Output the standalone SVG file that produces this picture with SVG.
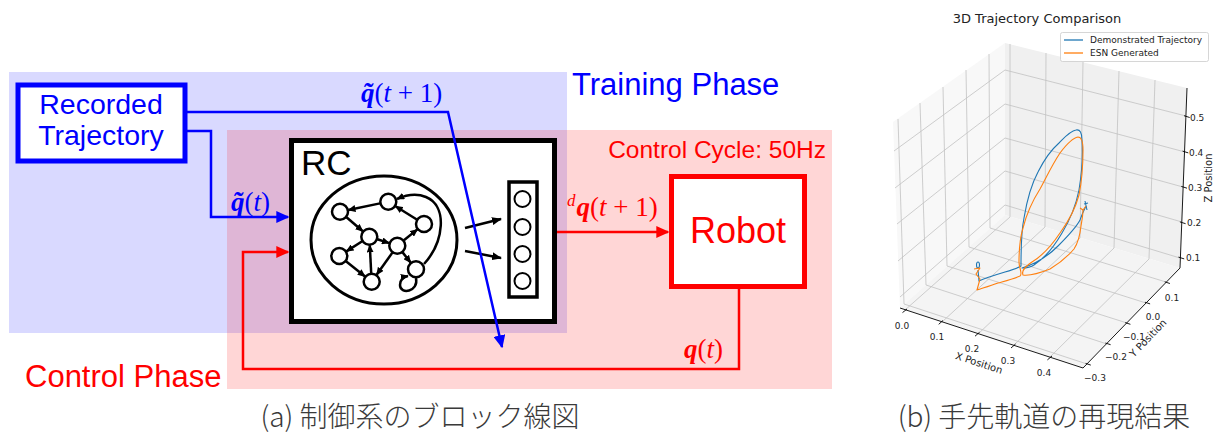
<svg xmlns="http://www.w3.org/2000/svg" width="1215" height="434" viewBox="0 0 1215 434">
<style>
  .sans{font-family:"Liberation Sans",Arial,sans-serif}
  .math{font-family:"Liberation Serif","Times New Roman",serif;font-size:27px}
  .bq{font-weight:bold;font-style:italic}
  .it{font-style:italic}
  .cap{font-family:"Noto Sans CJK JP","Noto Sans",sans-serif;font-size:28px;font-weight:300;fill:#3a3a3a}
  .nd{fill:#fff;stroke:#000;stroke-width:2.5}
  .ed{fill:none;stroke:#000;stroke-width:2.5;marker-end:url(#ah)}
  .bl{fill:none;stroke:#0000ff;stroke-width:2.5}
  .rd{fill:none;stroke:#ff0000;stroke-width:2.5}
  .grid{stroke:#c2c2c2;stroke-width:0.8;fill:none}
  .ax{stroke:#000;stroke-width:0.9;fill:none}
  .mpl{font-family:"DejaVu Sans",sans-serif;fill:#222}
  .tk{font-size:9px}
  .tr{fill:none;stroke-width:1.1;stroke-linejoin:round}
</style>
<defs>
  <marker id="ah" viewBox="0 0 10 10" refX="9" refY="5" markerWidth="8" markerHeight="7" markerUnits="userSpaceOnUse" orient="auto" preserveAspectRatio="none"><path d="M0,0L10,5L0,10z" fill="#000"/></marker>
  <marker id="ahk" viewBox="0 0 10 10" refX="9" refY="5" markerWidth="10" markerHeight="8" markerUnits="userSpaceOnUse" orient="auto" preserveAspectRatio="none"><path d="M0,0L10,5L0,10z" fill="#000"/></marker>
  <marker id="ahb" viewBox="0 0 10 10" refX="9" refY="5" markerWidth="13" markerHeight="12" markerUnits="userSpaceOnUse" orient="auto" preserveAspectRatio="none"><path d="M0,0L10,5L0,10z" fill="#0000ff"/></marker>
  <marker id="ahr" viewBox="0 0 10 10" refX="9" refY="5" markerWidth="13" markerHeight="12" markerUnits="userSpaceOnUse" orient="auto" preserveAspectRatio="none"><path d="M0,0L10,5L0,10z" fill="#ff0000"/></marker>
</defs>

<rect width="1215" height="434" fill="#fff"/>

<!-- phase regions -->
<g id="training-phase">
  <rect x="9" y="72" width="558" height="261" fill="#0000ff" fill-opacity="0.15"/>
  <text class="sans" x="572" y="95" font-size="31" fill="#0000ff">Training Phase</text>
</g>
<g id="control-phase">
  <rect x="227" y="130" width="605" height="259" fill="#ff0000" fill-opacity="0.16"/>
  <text class="sans" x="25" y="387" font-size="31" fill="#ff0000">Control Phase</text>
  <text class="sans" x="826" y="158" font-size="24.5" fill="#ff0000" text-anchor="end">Control Cycle: 50Hz</text>
</g>

<!-- recorded trajectory source -->
<g id="recorded">
  <rect x="18" y="85" width="167" height="76" fill="#fff" stroke="#0000ff" stroke-width="5"/>
  <text class="sans" x="101" y="114" font-size="28.5" fill="#0000ff" text-anchor="middle">Recorded</text>
  <text class="sans" x="101" y="145" font-size="28.5" fill="#0000ff" text-anchor="middle">Trajectory</text>
</g>

<!-- reservoir computer -->
<g id="rc">
  <rect x="291.5" y="140.5" width="263" height="181" fill="#fff" stroke="#000" stroke-width="5"/>
  <text class="sans" x="301" y="175" font-size="35" fill="#000">RC</text>
  <ellipse cx="384" cy="240" rx="73" ry="64" fill="none" stroke="#000" stroke-width="3"/>
  <!-- internal edges -->
  <line class="ed" x1="380" y1="203.4" x2="348.3" y2="210"/>
  <line class="ed" x1="346.5" y1="217.2" x2="362.8" y2="231.2"/>
  <line class="ed" x1="377.4" y1="239.3" x2="389.2" y2="243.1"/>
  <line class="ed" x1="403.9" y1="240.3" x2="417.4" y2="229.4"/>
  <line class="ed" x1="416.8" y1="219.5" x2="395.5" y2="206.2"/>
  <line class="ed" x1="362.2" y1="241.3" x2="346.4" y2="251.4"/>
  <line class="ed" x1="346" y1="261.3" x2="365" y2="276.4"/>
  <line class="ed" x1="371.2" y1="273.2" x2="369.8" y2="245.2"/>
  <line class="ed" x1="392.4" y1="252.6" x2="376.6" y2="274.8"/>
  <line class="ed" x1="402.6" y1="252.4" x2="410.7" y2="262.6"/>
  <path class="ed" d="M424,264 C444,242 448,206 426,197 C416,193 406,195 397,199"/>
  <path class="ed" d="M416,278 C419,292 400,295 400,285 C400,280 403,277 408,276"/>
  <!-- internal nodes -->
  <circle class="nd" cx="340" cy="211.7" r="8"/>
  <circle class="nd" cx="388.3" cy="201.7" r="8"/>
  <circle class="nd" cx="424" cy="224" r="8"/>
  <circle class="nd" cx="369.3" cy="236.7" r="8"/>
  <circle class="nd" cx="397.3" cy="245.7" r="8"/>
  <circle class="nd" cx="339.3" cy="256" r="8"/>
  <circle class="nd" cx="371.7" cy="281.7" r="8"/>
  <circle class="nd" cx="416" cy="269.3" r="8"/>
  <!-- readout -->
  <line x1="465" y1="228" x2="501" y2="219" stroke="#000" stroke-width="2.5" marker-end="url(#ahk)"/>
  <line x1="465" y1="251" x2="501" y2="258" stroke="#000" stroke-width="2.5" marker-end="url(#ahk)"/>
  <rect x="509" y="182" width="28" height="115" fill="#fff" stroke="#000" stroke-width="3.5"/>
  <circle cx="522.5" cy="199" r="8" fill="#fff" stroke="#000" stroke-width="2"/>
  <circle cx="522.5" cy="227" r="8" fill="#fff" stroke="#000" stroke-width="2"/>
  <circle cx="522.5" cy="254" r="8" fill="#fff" stroke="#000" stroke-width="2"/>
  <circle cx="522.5" cy="281" r="8" fill="#fff" stroke="#000" stroke-width="2"/>
</g>

<!-- robot -->
<g id="robot">
  <rect x="671.5" y="176.5" width="133" height="110" fill="#fff" stroke="#ff0000" stroke-width="5"/>
  <text class="sans" x="738" y="243" font-size="36" fill="#ff0000" text-anchor="middle">Robot</text>
</g>

<!-- connectors -->
<g id="connectors">
  <polyline class="bl" points="187,112 448,112 502,347" marker-end="url(#ahb)"/>
  <polyline class="bl" points="187,131 211,131 211,217 288,217" marker-end="url(#ahb)"/>
  <line class="rd" x1="557" y1="232" x2="668" y2="232" marker-end="url(#ahr)"/>
  <polyline class="rd" points="739,289 739,369 243,369 243,252 288,252" marker-end="url(#ahr)"/>
  <text class="math" x="361" y="102" fill="#0000ff"><tspan class="bq">q̃</tspan>(<tspan class="it">t</tspan> + 1)</text>
  <text class="math" x="231" y="211" fill="#0000ff"><tspan class="bq">q̃</tspan>(<tspan class="it">t</tspan>)</text>
  <text class="math" x="567" y="216" fill="#ff0000"><tspan class="it" font-size="17" dy="-10">d</tspan><tspan class="bq" dy="10" dx="1">q</tspan>(<tspan class="it">t</tspan> + 1)</text>
  <text class="math" x="684" y="358" fill="#ff0000"><tspan class="bq">q</tspan>(<tspan class="it">t</tspan>)</text>
</g>

<text class="cap" x="420" y="427" text-anchor="middle">(a) 制御系のブロック線図</text>

<!-- 3D trajectory plot -->
<g id="plot3d">
  <path d="M893,122 L1005,43 L1005,215 L900,308 Z" fill="#f8f8f8"/>
  <path d="M1005,43 L1187,88 L1180,268 L1005,215 Z" fill="#f0f0f0"/>
  <path d="M900,308 L1083,368 L1180,268 L1005,215 Z" fill="#f4f4f4"/>
  <g class="grid">
    <!-- back wall (y = max) -->
    <line x1="1010" y1="217" x2="1010" y2="44"/>
    <line x1="1045" y1="227" x2="1046" y2="53"/>
    <line x1="1080" y1="238" x2="1083" y2="62"/>
    <line x1="1114" y1="248" x2="1119" y2="71"/>
    <line x1="1149" y1="259" x2="1155" y2="80"/>
    <line x1="1005" y1="205" x2="1180" y2="258"/>
    <line x1="1005" y1="171" x2="1182" y2="222"/>
    <line x1="1005" y1="138" x2="1183" y2="187"/>
    <line x1="1005" y1="104" x2="1185" y2="152"/>
    <line x1="1005" y1="70" x2="1186" y2="116"/>
    <!-- side wall (x = min) -->
    <line x1="904" y1="304" x2="898" y2="119"/>
    <line x1="926" y1="285" x2="920" y2="103"/>
    <line x1="947" y1="266" x2="943" y2="87"/>
    <line x1="969" y1="247" x2="966" y2="70"/>
    <line x1="990" y1="228" x2="989" y2="54"/>
    <line x1="900" y1="297" x2="1005" y2="205"/>
    <line x1="898" y1="261" x2="1005" y2="171"/>
    <line x1="897" y1="224" x2="1005" y2="138"/>
    <line x1="895" y1="188" x2="1005" y2="104"/>
    <line x1="894" y1="151" x2="1005" y2="70"/>
    <!-- floor -->
    <line x1="905" y1="310" x2="1010" y2="217"/>
    <line x1="942" y1="322" x2="1045" y2="227"/>
    <line x1="978" y1="334" x2="1080" y2="238"/>
    <line x1="1014" y1="345" x2="1114" y2="248"/>
    <line x1="1050" y1="357" x2="1149" y2="259"/>
    <line x1="904" y1="304" x2="1087" y2="364"/>
    <line x1="926" y1="285" x2="1107" y2="344"/>
    <line x1="947" y1="266" x2="1127" y2="323"/>
    <line x1="969" y1="247" x2="1146" y2="303"/>
    <line x1="990" y1="228" x2="1166" y2="282"/>
  </g>
  <!-- axes and ticks -->
  <g class="ax">
    <line x1="900" y1="308" x2="1083" y2="368"/>
    <line x1="1083" y1="368" x2="1180" y2="268"/>
    <line x1="1180" y1="268" x2="1187" y2="88"/>
    <path d="M907,309 L902.5,312.6 M943,320.5 L938.7,324.3 M979.5,332.3 L975,336.2 M1015.5,344.1 L1011,348 M1052,356 L1047.4,359.9"/>
    <path d="M1085.6,363.4 L1090.8,365.1 M1105.4,343 L1110.6,344.7 M1125.2,322.6 L1130.4,324.3 M1144.9,302.2 L1150.1,303.9 M1164.7,281.8 L1169.9,283.5"/>
    <path d="M1178.5,257.1 L1184.2,258.9 M1179.9,221.9 L1185.6,223.7 M1181.3,186.4 L1187,188.2 M1182.6,151.1 L1188.3,152.9 M1184,115.7 L1189.7,117.5"/>
  </g>
  <!-- trajectories -->
  <g class="tr" stroke="#1f77b4">
    <path d="M978,262 C976,262 976,268 978,268 C980,268 980,262 978,262 M978,270 L979,281 C985,278 995,275 1005,272 C1012,270 1018,268 1021,266 C1021,250 1021,232 1024,218 C1027,200 1031,185 1038,172 C1044,160 1051,150 1059,143 C1065,137 1070,131 1076,130 C1080,129 1082,133 1082,140 C1083,155 1082,172 1079,190 C1076,205 1070,220 1062,233 C1055,245 1045,258 1034,265 C1030,268 1026,268 1022,268 C1035,264 1048,256 1058,246 C1068,236 1076,228 1080,220 C1082,214 1084,210 1086,206"/>
    <path d="M1085,201 L1087,210 M1084,204 L1088,203"/>
  </g>
  <g class="tr" stroke="#ff7f0e">
    <path d="M974,269 L980,268 L976,274 L980,279 L977,290 C983,288 990,286 998,283 C1005,281 1013,279 1020,276 C1023,274 1019,268 1019,262 C1019,250 1020,238 1023,228 C1027,212 1033,200 1040,189 C1046,178 1052,165 1060,153 C1066,145 1072,138 1078,137 C1082,137 1083,143 1083,150 C1083,165 1082,180 1079,195 C1075,210 1068,222 1060,233 C1052,245 1042,256 1032,262 C1026,266 1021,270 1023,275 C1030,276 1040,273 1050,269 C1060,263 1068,256 1074,249 C1078,243 1080,235 1081,226 C1082,220 1083,215 1083,210"/>
    <path d="M1080,208 L1083,210 L1086,206"/>
  </g>
  <!-- labels -->
  <text class="mpl" x="1037" y="23" font-size="13" text-anchor="middle">3D Trajectory Comparison</text>
  <g id="legend">
    <rect x="1060.5" y="32.5" width="148" height="29" rx="2" fill="#fff" fill-opacity="0.85" stroke="#cccccc" stroke-width="0.8"/>
    <line x1="1064" y1="40" x2="1083" y2="40" stroke="#1f77b4" stroke-width="1.3"/>
    <line x1="1064" y1="53" x2="1083" y2="53" stroke="#ff7f0e" stroke-width="1.3"/>
    <text class="mpl" x="1090" y="43.3" font-size="9">Demonstrated Trajectory</text>
    <text class="mpl" x="1090" y="56.3" font-size="9">ESN Generated</text>
  </g>
  <g class="mpl tk" text-anchor="middle">
    <text x="902" y="329">0.0</text>
    <text x="937" y="340">0.1</text>
    <text x="972" y="352">0.2</text>
    <text x="1008" y="364">0.3</text>
    <text x="1044" y="376">0.4</text>
    <text x="1172" y="301">0.1</text>
    <text x="1153" y="320">0.0</text>
    <text x="1134" y="340">−0.1</text>
    <text x="1116" y="360">−0.2</text>
    <text x="1095" y="381">−0.3</text>
  </g>
  <g class="mpl tk">
    <text x="1190" y="120.5">0.5</text>
    <text x="1189" y="155.5">0.4</text>
    <text x="1188" y="190.5">0.3</text>
    <text x="1187" y="226">0.2</text>
    <text x="1186" y="261">0.1</text>
  </g>
  <text class="mpl" font-size="10" text-anchor="middle" transform="translate(979,363) rotate(18)" y="3.5">X Position</text>
  <text class="mpl" font-size="10" text-anchor="middle" transform="translate(1148,338) rotate(-46)" y="3.5">Y Position</text>
  <text class="mpl" font-size="10" text-anchor="middle" transform="translate(1208,178) rotate(-90)" y="3.5">Z Position</text>
</g>

<text class="cap" x="1044" y="427" text-anchor="middle">(b) 手先軌道の再現結果</text>
</svg>
